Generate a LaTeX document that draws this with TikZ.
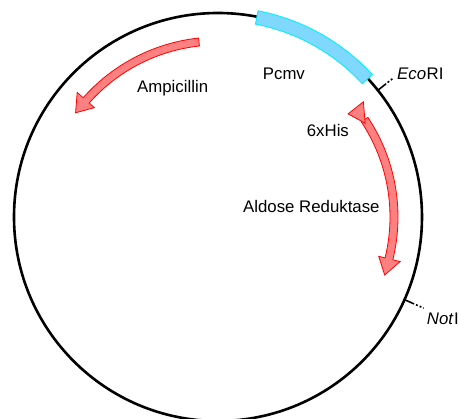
\documentclass[tikz,border=0pt]{standalone}
\usepackage{fontspec}
\setmainfont{Liberation Sans}
\definecolor{genefill}{RGB}{255,128,128}
\definecolor{genedraw}{RGB}{255,0,0}
\definecolor{promfill}{RGB}{128,216,255}
\definecolor{promdraw}{RGB}{0,240,255}
\tikzset{
  backbone/.style={draw=black, line width=2.6pt},
  gene/.style={draw=genedraw, fill=genefill, line width=0.8pt, line join=miter},
  promoter/.style={draw=promdraw, fill=promfill, line width=0.9pt},
  sitetick/.style={draw=black, line width=1.6pt},
  sitedots/.style={draw=black, line width=1.6pt, dash pattern=on 2pt off 2pt},
  lbl/.style={inner sep=0pt, font=\fontsize{16.8}{20}\selectfont}
}
\begin{document}
\begin{tikzpicture}
\useasboundingbox (-218pt,-202pt) rectangle (241pt,217pt);

% plasmid backbone
\draw[backbone] (0,0) circle[radius=204pt];

% CMV promoter
\path[promoter] (42.7:196.5pt) -- (42.7:210pt) arc[start angle=42.7, end angle=79, radius=210pt]
  -- (79:196.5pt) arc[start angle=79, end angle=42.7, radius=196.5pt] -- cycle;

% ampicillin resistance gene (counter-clockwise)
\path[gene] (96.2:180pt) arc[start angle=96.2, end angle=138.5, radius=180pt]
  -- (138.5:188pt) -- (143.8:176.5pt) -- (138.5:165pt)
  -- (138.5:172pt) arc[start angle=138.5, end angle=96.2, radius=172pt] -- cycle;

% aldose reductase gene (clockwise)
\path[gene] (33.6:180pt) arc[start angle=33.6, end angle=-13.75, radius=180pt]
  -- (-13.75:187.5pt) -- (-19.2:176.5pt) -- (-13.75:165.5pt)
  -- (-13.75:172pt) arc[start angle=-13.75, end angle=33.6, radius=172pt] -- cycle;
% 6xHis tag
\path[gene] (38.4:166pt) -- (38.4:185.5pt) -- (32.5:174.5pt) -- cycle;

% restriction sites
\coordinate (ecoA) at (38.4:203pt);
\coordinate (ecoB) at (38.4:212.5pt);
\coordinate (ecoC) at (38.4:224pt);
\coordinate (notA) at (-23.9:203pt);
\coordinate (notB) at (-23.9:212.5pt);
\coordinate (notC) at (-23.9:225pt);
\draw[sitetick] (ecoA) -- (ecoB);
\draw[sitedots] (ecoB) -- (ecoC);
\draw[sitetick] (notA) -- (notB);
\draw[sitedots] (notB) -- (notC);

% labels
\node[lbl, anchor=base west] (amp) at (-81pt,124.3pt) {Ampicillin};
\node[lbl, anchor=base west] (pcmv) at (44.7pt,137pt) {Pcmv};
\node[lbl, anchor=base west] (eco) at (179pt,137pt) {\textit{Eco}\kern0.6pt RI};
\node[lbl, anchor=base west] (his) at (88.7pt,80pt) {6xHis};
\node[lbl, anchor=base west] (ar) at (25pt,4pt) {Aldose Reduktase};
\node[lbl, anchor=base west] (noti) at (208.7pt,-108pt) {\textit{Not}\kern0.6pt I};
\end{tikzpicture}
\end{document}
